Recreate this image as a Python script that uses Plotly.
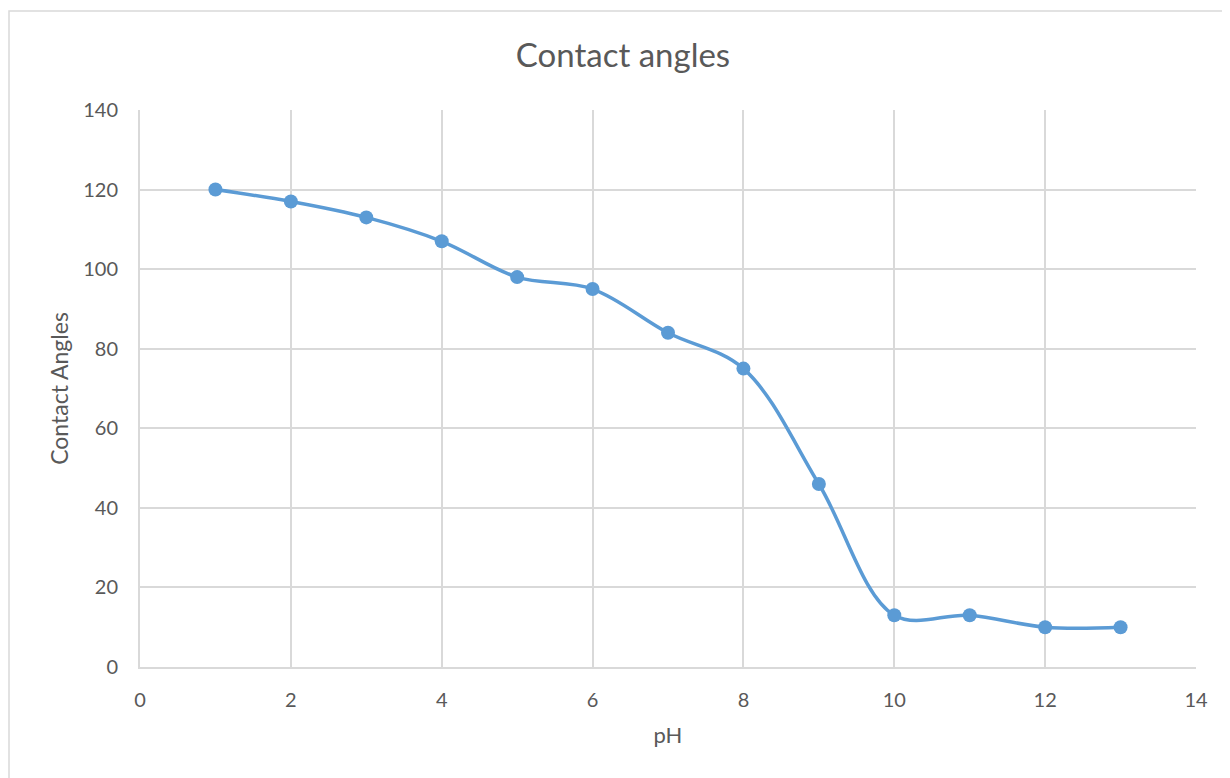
import plotly.graph_objects as go

ph = [1, 2, 3, 4, 5, 6, 7, 8, 9, 10, 11, 12, 13]
angles = [120, 117, 113, 107, 98, 95, 84, 75, 46, 13, 13, 10, 10]

x_ticks = [0, 2, 4, 6, 8, 10, 12, 14]
y_ticks = [0, 20, 40, 60, 80, 100, 120, 140]

font_family = "Lato, 'Open Sans', sans-serif"
txt = "#595959"
grid = "#D9D9D9"
blue = "#5B9BD5"

fig = go.Figure()
fig.add_trace(go.Scatter(
    x=ph, y=angles, mode="lines+markers",
    line=dict(color=blue, width=3.5, shape="spline", smoothing=1.0),
    marker=dict(color=blue, size=14),
    showlegend=False,
))

W, H = 1230, 778
L, R, T, B = 132, 42, 102, 119
pw, ph_ = W - L - R, H - T - B

fig.update_layout(
    width=W, height=H,
    margin=dict(l=L, r=R, t=T, b=B),
    paper_bgcolor="white", plot_bgcolor="white",
    font=dict(family=font_family, color=txt, size=20),
    title=dict(text="Contact angles", x=0.5, xanchor="center", y=1 - 47 / H, yanchor="middle",
               font=dict(size=33, color=txt, family=font_family)),
    xaxis=dict(range=[0, 14], tickvals=x_ticks, ticktext=[str(v) for v in x_ticks],
               showgrid=True, gridcolor=grid, gridwidth=2, zeroline=False,
               showline=True, linecolor=grid, linewidth=2, mirror=False,
               ticks="", ticklen=0,
               title=dict(text="pH", font=dict(size=22, color=txt), standoff=18)),
    yaxis=dict(range=[0, 140], tickvals=y_ticks, ticktext=[str(v) for v in y_ticks],
               showgrid=True, gridcolor=grid, gridwidth=2, zeroline=False,
               showline=True, linecolor=grid, linewidth=2,
               ticks="", ticklen=0,
               title=dict(text="Contact Angles", font=dict(size=23, color=txt), standoff=8)),
    shapes=[dict(type="rect", xref="paper", yref="paper",
                 x0=(1 - L) / pw, x1=1.3, y0=-0.5, y1=(ph_ + T - 3) / ph_,
                 line=dict(color="#D9D9D9", width=1.5), fillcolor="rgba(0,0,0,0)", layer="below")],
)
fig.update_xaxes(ticklabelstandoff=14)
fig.update_yaxes(ticklabelstandoff=16)

fig.write_html("out.html")
